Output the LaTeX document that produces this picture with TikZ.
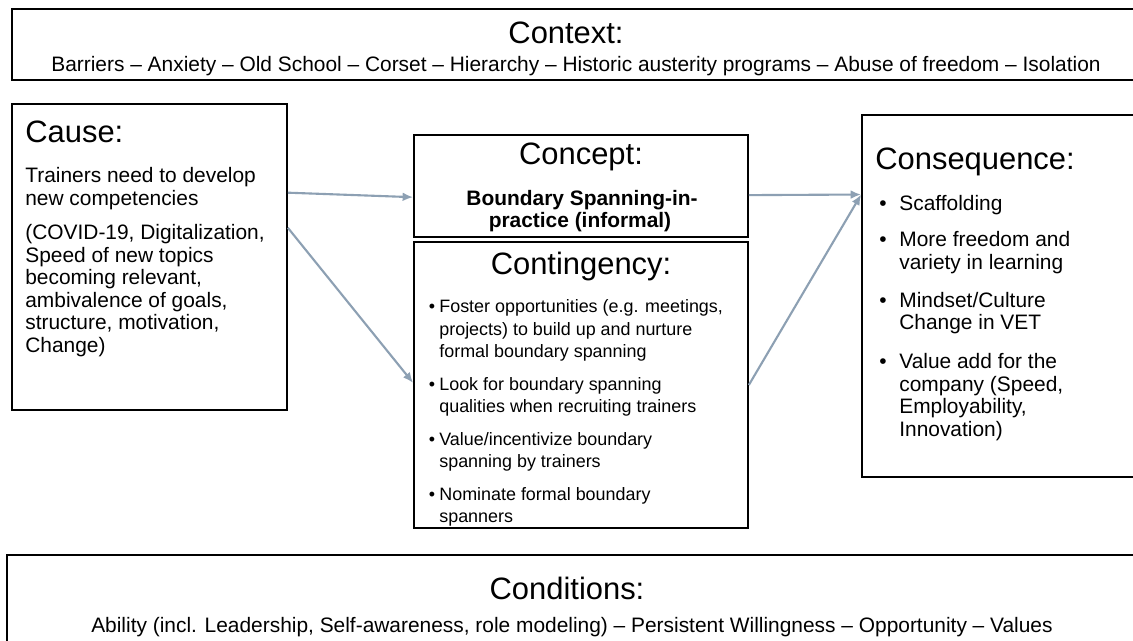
\documentclass[tikz,border=0pt]{standalone}
\usepackage{fontspec}
\setmainfont{Liberation Sans}
\usetikzlibrary{arrows.meta,calc}
\definecolor{linkblue}{HTML}{8DA0B3}
\begin{document}
\begin{tikzpicture}[x=0.02cm,y=-0.02cm,
  box/.style={draw=black,line width=1pt,inner sep=0pt},
  title/.style={inner sep=0pt,font=\fontsize{17.6}{20}\selectfont},
  body/.style={inner sep=0pt,font=\fontsize{11.9}{14}\selectfont},
  bold/.style={inner sep=0pt,font=\fontsize{11.9}{14}\selectfont\bfseries},
  small/.style={inner sep=0pt,font=\fontsize{10.2}{12}\selectfont},
  link/.style={draw=linkblue,line width=1.2pt,-{Latex[length=6pt,width=5pt]}}]
\useasboundingbox (0,0) rectangle (1133,641);
\clip (0,0) rectangle (1133,641);
\fill[white] (0,0) rectangle (1133,641);

% frames
\node[box,minimum width=22.56cm,minimum height=1.42cm] (context) at (576,44.5) {};
\node[box,minimum width=5.5cm,minimum height=6.12cm] (cause) at (149.5,257) {};
\node[box,minimum width=6.68cm,minimum height=2.04cm] (concept) at (581,186) {};
\node[box,minimum width=6.68cm,minimum height=5.72cm] (contingency) at (581,385) {};
\node[box,minimum width=5.56cm,minimum height=7.24cm] (consequence) at (1001,296) {};
\node[box,minimum width=22.66cm,minimum height=1.9cm] (conditions) at (573.5,602.5) {};

% context
\node[title,anchor=base] (context-t) at (566,44) {Context:};
\node[body,anchor=base] (context-b) at (576,72) {Barriers – Anxiety – Old School – Corset – Hierarchy – Historic austerity programs – Abuse of freedom – Isolation};

% cause
\node[title,anchor=base west] (cause-t) at (25,143) {Cause:};
\foreach \y/\t [count=\i] in {183/{Trainers need to develop},206/{new competencies},
  240/{(COVID-19, Digitalization,},263/{Speed of new topics},285/{becoming relevant,},
  308/{ambivalence of goals,},330/{structure, motivation,},353/{Change)}}
  \node[body,anchor=base west] (cause-\i) at (25,\y) {\t};

% concept
\node[title,anchor=base] (concept-t) at (581,165) {Concept:};
\node[bold,anchor=base] (concept-1) at (582,206) {Boundary Spanning-in-};
\node[bold,anchor=base] (concept-2) at (580,228) {practice (informal)};

% contingency
\node[title,anchor=base] (contingency-t) at (581,275) {Contingency:};
\foreach \y/\t [count=\i] in {313/{Foster opportunities (e.g. meetings,},336/{projects) to build up and nurture},
  358/{formal boundary spanning},391/{Look for boundary spanning},413/{qualities when recruiting trainers},
  446/{Value/incentivize boundary},468/{spanning by trainers},501/{Nominate formal boundary},523/{spanners}}
  \node[small,anchor=base west] (contingency-\i) at (439,\y) {\t};
\foreach \y [count=\i] in {313,391,446,501}
  \node[small,anchor=base] (contingency-b\i) at (432,\y) {•};

% consequence
\node[title,anchor=base west] (consequence-t) at (875,170) {Consequence:};
\foreach \y/\t [count=\i] in {211/{Scaffolding},247/{More freedom and},270/{variety in learning},
  308/{Mindset/Culture},330/{Change in VET},369/{Value add for the},392/{company (Speed,},
  414/{Employability,},437/{Innovation)}}
  \node[body,anchor=base west] (consequence-\i) at (899,\y) {\t};
\foreach \y [count=\i] in {211,247,308,369}
  \node[body,anchor=base] (consequence-b\i) at (883,\y) {•};

% conditions
\node[title,anchor=base] (conditions-t) at (567,600) {Conditions:};
\node[body,anchor=base] (conditions-b) at (572,633) {Ability (incl. Leadership, Self-awareness, role modeling) – Persistent Willingness – Opportunity – Values};

% connectors
\draw[link] ($(cause.north east)!0.291!(cause.south east)$) -- ($(concept.north west)!0.608!(concept.south west)$);
\draw[link] ($(cause.north east)!0.405!(cause.south east)$) -- ($(contingency.north west)!0.493!(contingency.south west)$);
\draw[link] ($(concept.north east)!0.588!(concept.south east)$) -- ($(consequence.north west)!0.221!(consequence.south west)$);
\draw[link] (contingency.east) -- ($(consequence.north west)!0.221!(consequence.south west)$);
\end{tikzpicture}
\end{document}
